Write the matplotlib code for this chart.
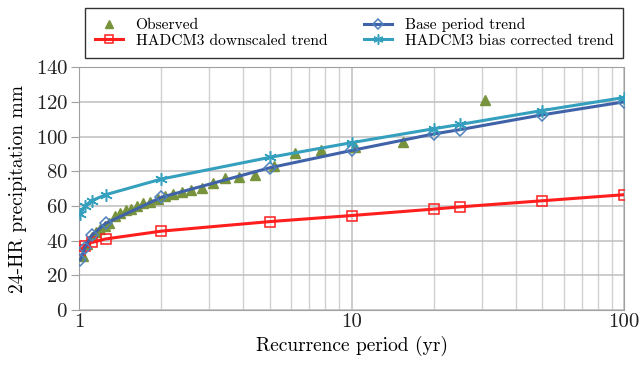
import matplotlib
matplotlib.use("Agg")
import matplotlib.pyplot as plt
import matplotlib.ticker

plt.rcParams['font.family'] = ['cmr10', 'DejaVu Serif']
plt.rcParams['mathtext.fontset'] = 'cm'
plt.rcParams['axes.formatter.use_mathtext'] = True

# observed (plotting positions) and values
obs_x = [31.0, 15.5, 10.33, 7.75, 6.2, 5.17, 4.43, 3.875, 3.44, 3.1, 2.82, 2.58, 2.38,
         2.21, 2.07, 1.94, 1.82, 1.72, 1.63, 1.55, 1.48, 1.41, 1.35, 1.29, 1.24, 1.19,
         1.15, 1.11, 1.07, 1.03]
obs_y = [121, 97, 94, 92.5, 90.5, 83, 78, 76.5, 76, 73, 70.5, 69, 68,
         67, 65.5, 64, 62.5, 61.5, 60, 58.5, 57.5, 56, 54, 50, 48.5, 47,
         45, 42, 38, 31]

# trends
trend_x = [1.01, 1.05, 1.11, 1.25, 2, 5, 10, 20, 25, 50, 100]
base_y = [29, 36, 43, 50, 65, 82, 92, 101.5, 104, 112.5, 120]
down_y = [34.5, 37, 39, 41, 45.5, 51, 54.5, 58.2, 59.5, 63, 66.5]
bias_y = [55.5, 60, 63, 66.5, 75.5, 88, 96.5, 104.5, 107, 115, 122.5]

xticks = [1, 10, 100]
xtick_labels = ["1", "10", "100"]
yticks = [0, 20, 40, 60, 80, 100, 120, 140]

fig = plt.figure(figsize=(6.44, 3.67), dpi=100)
ax = fig.add_axes([0.123, 0.155, 0.846, 0.662])

ax.plot(obs_x, obs_y, marker="^", linestyle=" ", color="#77933C", markersize=7,
        label="Observed", zorder=3)
ax.plot(trend_x, down_y, marker="s", linestyle="-", color="#FF1E1E", linewidth=2.2,
        markersize=7.5, markerfacecolor="none", markeredgewidth=1.1,
        label="HADCM3 downscaled trend", zorder=4)
ax.plot(trend_x, base_y, marker="D", linestyle="-", color="#3F62A8", linewidth=2.2,
        markersize=6, markerfacecolor="none", markeredgecolor="#4F81BD",
        markeredgewidth=1.1, label="Base period trend", zorder=4)
ax.plot(trend_x, bias_y, marker=(6, 2, 0), linestyle="-", color="#34A0BE", linewidth=2.2,
        markersize=9, markeredgewidth=1.1, label="HADCM3 bias corrected trend", zorder=5)

ax.set_xscale("log")
ax.set_xlim([1, 100])
ax.set_ylim([0, 140])
ax.set_xticks(xticks, labels=xtick_labels)
ax.xaxis.set_minor_locator(matplotlib.ticker.LogLocator(base=10, subs=range(2, 10)))
ax.xaxis.set_minor_formatter(matplotlib.ticker.NullFormatter())
ax.set_yticks(yticks)

ax.grid(which="major", color="#BEBEBE", linewidth=1.1)
ax.grid(which="minor", axis="x", color="#D0D0D0", linewidth=1.0)
ax.set_axisbelow(True)
for s in ax.spines.values():
    s.set_color("#A0A0A0")
ax.tick_params(which="both", length=0, labelsize=15, colors="#222222", pad=2)
ax.tick_params(axis="y", length=6, color="#A0A0A0", direction="out")

ax.set_xlabel("Recurrence period (yr)", fontsize=14, labelpad=4)
ax.set_ylabel("24-HR precipitation mm", fontsize=14, labelpad=6)

leg = fig.legend(loc="lower left", bbox_to_anchor=(0.132, 0.842, 0.836, 0.13),
                 mode="expand", ncol=2, fontsize=11.2, frameon=True, fancybox=False,
                 edgecolor="black", borderaxespad=0, handlelength=1.8,
                 labelspacing=0.12, borderpad=0.65, markerscale=0.8)
leg.get_frame().set_linewidth(1.0)

fig.savefig("out.png", dpi=100)
